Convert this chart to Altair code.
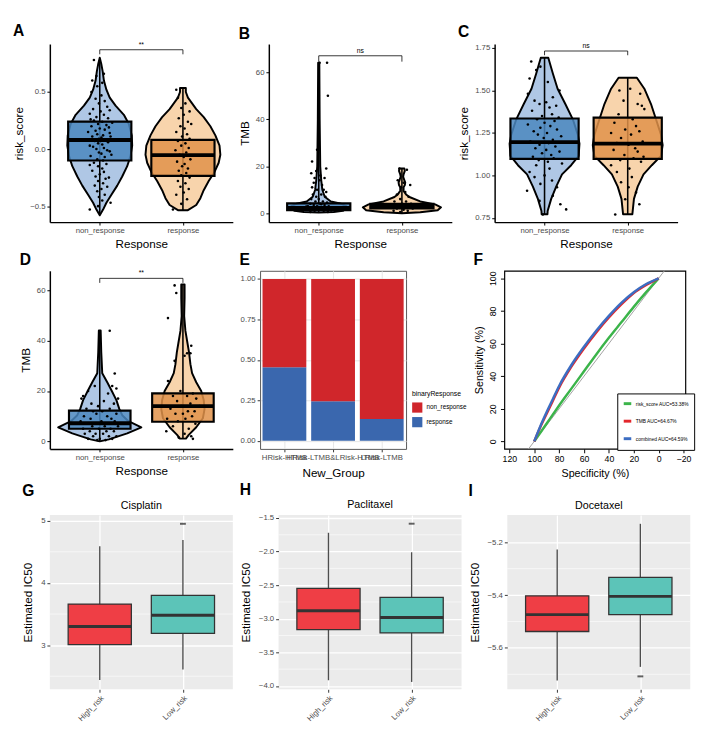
import altair as alt
import pandas as pd

FONT = "Liberation Sans"
GROUPS = ["non_response", "response"]
CENTERS = [1, 2]
VIOLIN_FILL = ["#AFC7E5", "#F8D4AC"]
BOX_FILL = ["#4B87BE", "#E1924A"]

# ---------------- Panel A : risk_score ----------------
A_vy_non = [0.80, 0.74, 0.68, 0.60, 0.52, 0.45, 0.38, 0.30, 0.22, 0.12, 0.03, -0.06, -0.15, -0.24, -0.32, -0.40, -0.47, -0.53, -0.58]
A_vw_non = [0.0, 0.02, 0.035, 0.05, 0.08, 0.12, 0.19, 0.29, 0.35, 0.385, 0.39, 0.37, 0.33, 0.27, 0.21, 0.14, 0.08, 0.04, 0.0]
A_vy_resp = [0.535, 0.50, 0.45, 0.40, 0.35, 0.28, 0.20, 0.12, 0.03, -0.05, -0.12, -0.20, -0.28, -0.36, -0.43, -0.49, -0.535]
A_vw_resp = [0.035, 0.035, 0.06, 0.11, 0.16, 0.25, 0.33, 0.39, 0.44, 0.45, 0.43, 0.38, 0.31, 0.25, 0.21, 0.16, 0.06]
A_box = [[-0.10, 0.08, 0.24], [-0.235, -0.053, 0.08]]
A_whisk = [[-0.57, 0.78], [-0.54, 0.53]]
A_pts_non = [(0.78,-0.07),(0.66,0.05),(0.64,-0.04),(0.60,-0.09),(0.58,0.03),(0.55,-0.03),(0.50,-0.10),(0.47,0.02),(0.44,-0.05),(0.42,0.06),(0.40,-0.01),(0.37,0.09),(0.35,-0.08),(0.33,0.01),(0.31,-0.12),(0.30,0.05),(0.28,-0.04),(0.27,0.10),(0.25,-0.07),(0.24,0.03),(0.22,-0.02),(0.21,0.08),(0.20,-0.10),(0.18,0.00),(0.17,0.06),(0.16,-0.05),(0.14,0.12),(0.13,-0.03),(0.12,0.04),(0.11,-0.09),(0.10,0.02),(0.09,-0.01),(0.08,0.07),(0.07,-0.06),(0.06,0.10),(0.05,-0.02),(0.04,0.03),(0.02,-0.08),(0.01,0.05),(0.00,-0.04),(-0.01,0.09),(-0.03,-0.01),(-0.04,0.02),(-0.06,-0.11),(-0.07,0.06),(-0.09,-0.03),(-0.10,0.04),(-0.12,-0.07),(-0.13,0.08),(-0.15,-0.02),(-0.17,0.03),(-0.19,-0.09),(-0.20,0.05),(-0.22,0.00),(-0.24,-0.05),(-0.26,0.07),(-0.28,-0.02),(-0.30,0.04),(-0.32,-0.06),(-0.35,0.02),(-0.37,-0.03),(-0.40,0.06),(-0.42,-0.01),(-0.45,0.03),(-0.47,0.13),(-0.50,-0.02),(-0.53,-0.12),(0.23,0.15),(0.15,-0.14),(-0.05,0.14),(0.19,0.11),(0.26,-0.11),(0.11,0.13),(0.03,-0.12),(-0.02,0.12),(-0.14,-0.12),(-0.25,0.11),(-0.33,0.09),(0.34,0.12),(0.07,0.01)]
A_pts_resp = [(0.52,-0.08),(0.45,-0.06),(0.40,0.03),(0.36,-0.02),(0.33,0.08),(0.30,0.01),(0.27,-0.05),(0.24,0.06),(0.22,0.10),(0.20,-0.03),(0.18,0.02),(0.15,-0.08),(0.13,0.05),(0.11,-0.01),(0.09,0.08),(0.07,-0.06),(0.05,0.03),(0.03,-0.02),(0.01,0.07),(-0.01,-0.09),(-0.03,0.04),(-0.05,-0.04),(-0.07,0.01),(-0.09,0.09),(-0.11,-0.07),(-0.13,0.02),(-0.15,-0.01),(-0.17,0.06),(-0.19,-0.05),(-0.21,0.04),(-0.23,-0.02),(-0.25,0.08),(-0.28,-0.06),(-0.30,0.03),(-0.33,-0.03),(-0.35,0.07),(-0.38,0.01),(-0.40,-0.08),(-0.44,0.05),(-0.48,-0.02),(-0.53,-0.12)]
A_ydomain = [-0.64, 0.92]
A_yticks = [-0.5, 0.0, 0.5]
A_bracket = [0.87, 0.83]
A_sig = "**"

# ---------------- Panel B : TMB ----------------
B_vy_non = [64, 40, 20, 14, 10, 7, 5, 4, 3, 2, 1, 0.5, 0.3]
B_vw_non = [0.007, 0.011, 0.018, 0.03, 0.043, 0.072, 0.145, 0.27, 0.33, 0.33, 0.29, 0.18, 0.0]
B_vy_resp = [19, 18, 16.5, 15.5, 14, 13, 12, 11, 9.5, 8, 6.9, 5, 3.75, 2.5, 1.25, 0.4, 0]
B_vw_resp = [0.03, 0.035, 0.02, 0.015, 0.03, 0.04, 0.035, 0.02, 0.02, 0.05, 0.09, 0.22, 0.4, 0.47, 0.43, 0.22, 0.0]
B_box = [[1.3, 2.2, 4.2], [2.0, 3.0, 4.0]]
B_whisk = [[0.3, 64], [0, 19]]
B_pts_non = [(64,0.01),(64,0.1),(50,0.0),(50,0.11),(27,-0.02),(22,-0.08),(19,0.09),(18,-0.03),(17,-0.09),(16,0.02),(15,0.07),(15,-0.05),(14,0.01),(13,-0.06),(12,0.04),(11,-0.08),(10,0.06),(10,-0.02),(9,0.09),(8,-0.07),(8,0.03),(7,-0.03),(7,0.08),(6,0.0),(6,-0.09),(5,0.05),(5,-0.04),(4.5,0.1),(4,-0.1),(4,0.02),(3.5,-0.06),(3.5,0.07),(3,-0.02),(3,0.12),(3,-0.13),(2.5,0.04),(2.5,-0.08),(2,0.09),(2,-0.03),(2,0.14),(1.5,-0.11),(1.5,0.01),(1,0.06),(1,-0.05),(0.5,0.11),(0.5,-0.1),(2.2,0.0),(3.8,0.03),(1.2,0.15),(2.8,-0.15)]
B_pts_resp = [(19,-0.03),(18.5,0.06),(14,-0.05),(13,0.02),(12,0.1),(11,-0.01),(9,0.04),(8,-0.06),(7,0.08),(6,-0.02),(5,0.05),(5,-0.09),(4,0.0),(4,0.11),(3.5,-0.07),(3,0.03),(3,-0.12),(2.5,0.08),(2.5,-0.03),(2,0.13),(2,-0.06),(1.5,0.02),(1,-0.1),(1,0.07),(0.5,-0.02)]
B_ydomain = [-3.8, 72]
B_yticks = [0, 20, 40, 60]
B_bracket = [67, 64.5]
B_sig = "ns"

# ---------------- Panel C : risk_score ----------------
C_vy_non = [1.692, 1.60, 1.51, 1.42, 1.33, 1.24, 1.187, 1.115, 1.06, 1.006, 0.934, 0.862, 0.79, 0.772]
C_vw_non = [0.045, 0.10, 0.157, 0.25, 0.34, 0.40, 0.42, 0.41, 0.32, 0.21, 0.14, 0.08, 0.037, 0.035]
C_vy_resp = [1.575, 1.51, 1.42, 1.33, 1.24, 1.178, 1.115, 1.06, 1.006, 0.934, 0.862, 0.772]
C_vw_resp = [0.11, 0.2, 0.28, 0.34, 0.40, 0.42, 0.40, 0.29, 0.19, 0.12, 0.075, 0.056]
C_box = [[1.097, 1.196, 1.335], [1.097, 1.187, 1.34]]
C_whisk = [[0.772, 1.692], [0.772, 1.575]]
C_pts_non = [(1.67,-0.16),(1.64,-0.05),(1.62,-0.1),(1.57,-0.18),(1.55,0.04),(1.50,0.18),(1.48,-0.2),(1.46,0.1),(1.44,-0.12),(1.43,0.02),(1.42,-0.06),(1.41,0.14),(1.40,0.06),(1.38,-0.15),(1.36,0.09),(1.35,-0.03),(1.34,0.17),(1.33,-0.09),(1.32,0.12),(1.31,0.0),(1.30,-0.2),(1.29,0.07),(1.28,-0.05),(1.27,0.15),(1.26,-0.13),(1.25,0.03),(1.24,-0.08),(1.23,0.2),(1.22,-0.01),(1.21,0.1),(1.20,-0.17),(1.19,0.05),(1.18,-0.06),(1.17,0.13),(1.16,-0.11),(1.15,0.02),(1.14,0.18),(1.13,-0.03),(1.12,0.08),(1.11,-0.14),(1.10,0.11),(1.09,-0.07),(1.08,0.04),(1.07,0.21),(1.06,-0.1),(1.04,0.06),(1.02,-0.18),(1.00,0.0),(0.99,-0.12),(0.97,0.09),(0.95,-0.05),(0.93,0.15),(0.91,-0.21),(0.88,0.1),(0.85,-0.06),(0.83,0.19),(0.80,0.26),(0.77,-0.02)]
C_pts_resp = [(1.51,0.03),(1.50,-0.1),(1.48,0.15),(1.44,-0.05),(1.42,0.12),(1.41,0.17),(1.39,0.2),(1.36,-0.11),(1.33,0.06),(1.31,-0.16),(1.29,0.1),(1.27,-0.03),(1.26,0.14),(1.25,-0.2),(1.24,0.04),(1.22,-0.08),(1.20,0.18),(1.19,-0.13),(1.18,0.01),(1.16,0.09),(1.15,-0.17),(1.14,0.12),(1.12,-0.04),(1.11,0.19),(1.10,0.07),(1.09,-0.09),(1.08,0.16),(1.06,-0.2),(1.04,0.02),(1.02,-0.13),(0.99,0.05),(0.96,-0.08),(0.93,0.01),(0.90,0.1),(0.86,-0.03),(0.83,0.14),(0.77,-0.15)]
C_ydomain = [0.725, 1.773]
C_yticks = [0.75, 1.00, 1.25, 1.50, 1.75]
C_bracket = [1.732, 1.707]
C_sig = "ns"

# ---------------- Panel D : TMB ----------------
D_vy_non = [44.1, 35.5, 27.1, 23.5, 20, 16.4, 12.8, 10.4, 8.0, 5.6, 3.2, 0.8, 0]
D_vw_non = [0.011, 0.018, 0.03, 0.09, 0.145, 0.2, 0.236, 0.27, 0.345, 0.5, 0.33, 0.11, 0.0]
D_vy_resp = [62.4, 57, 49.8, 43.9, 39, 35.5, 30.7, 27.1, 23.5, 20, 16.4, 12.8, 9.2, 5.6, 2.6, 1.1]
D_vw_resp = [0.02, 0.02, 0.015, 0.03, 0.055, 0.073, 0.09, 0.11, 0.16, 0.22, 0.25, 0.26, 0.24, 0.16, 0.07, 0.036]
D_box = [[5.0, 7.2, 12.2], [7.8, 14.0, 19.1]]
D_whisk = [[0, 44], [1.1, 62.4]]
D_pts_non = [(44,0.12),(27,0.18),(22,0.15),(22,-0.06),(21,0.2),(20,-0.14),(19,0.1),(18,-0.2),(17,0.22),(17,-0.22),(16,0.05),(15,-0.1),(15,0.17),(14,-0.02),(13,0.12),(13,-0.16),(12,0.03),(12,-0.08),(11,0.2),(11,-0.04),(10,0.09),(10,-0.19),(9,0.14),(9,-0.11),(8,0.02),(8,-0.23),(8,0.18),(7,-0.05),(7,0.1),(7,-0.15),(6,0.06),(6,-0.09),(6,0.22),(5,-0.01),(5,0.13),(5,-0.2),(4,0.08),(4,-0.12),(4,0.17),(3,-0.05),(3,0.04),(3,-0.18),(2,0.11),(2,-0.08),(2,0.2),(1,0.0),(1,-0.14),(1,0.15),(0.5,-0.03),(0.5,0.07)]
D_pts_resp = [(62,-0.1),(59,-0.08),(49,-0.18),(38,0.1),(35,0.05),(35,0.09),(34,0.02),(32,-0.1),(24,-0.18),(20,-0.03),(19,0.12),(18,-0.12),(18,0.05),(17,0.16),(16,-0.07),(15,0.09),(14,-0.02),(14,0.2),(13,-0.15),(12,0.06),(12,0.14),(11,-0.09),(11,0.0),(10,0.11),(9,-0.19),(9,0.03),(8,-0.06),(7,0.15),(6,-0.12),(5,0.07),(4,-0.2),(3,0.02),(2,0.1),(1,0.12),(1.5,-0.05)]
D_ydomain = [-3, 67.8]
D_yticks = [0, 20, 40, 60]
D_bracket = [64.8, 63]
D_sig = "**"

# ---------------- Panel E : stacked proportions ----------------
E_groups = ["HRisk-HTMB", "HRisk-LTMB&LRisk-HTMB", "LRisk-LTMB"]
E_response = [0.455, 0.245, 0.135]
E_status = ["non_response", "response"]
E_colors = ["#D0262B", "#3A67AE"]

# ---------------- Panel F : ROC ----------------
F_spec = [100, 95, 90, 85, 80, 70, 60, 50, 40, 30, 20, 10, 0]
F_sens_risk = [0, 5.5, 11, 16.5, 22, 32.5, 43, 53.5, 63.5, 73, 82.5, 91.5, 100]
F_sens_tmb = [0, 9, 17, 25, 33, 46, 57, 67, 76, 84, 91, 96, 100]
F_sens_comb = [0, 9.5, 18, 26, 34, 47, 58, 68, 77, 85, 91.5, 96.5, 100]
F_labels = ["risk_score AUC=53.38%", "TMB AUC=64.67%", "combined AUC=64.59%"]
F_colors = ["#3BB44A", "#E3262B", "#3C6DC2"]
F_diag_spec = [130, -30]

# ---------------- Panels G/H/I : drug IC50 box plots ----------------
DRUG_GROUPS = ["High_risk", "Low_risk"]
DRUG_FILL = ["#EF3E45", "#5CC4B8"]
G_stats = [[2.44, 3.01, 3.30, 3.66, 4.59], [2.61, 3.19, 3.48, 3.80, 4.69]]
G_out = [[], [4.95]]
G_ydomain = [2.29, 5.09]
G_yticks = [3, 4, 5]
G_minor = [2.5, 3.5, 4.5]
H_stats = [[-3.915, -3.16, -2.88, -2.547, -1.72], [-3.94, -3.21, -2.98, -2.68, -2.01]]
H_out = [[], [-1.585]]
H_ydomain = [-4.05, -1.457]
H_yticks = [-4.0, -3.5, -3.0, -2.5, -2.0, -1.5]
H_minor = [-3.75, -3.25, -2.75, -2.25, -1.75]
I_stats = [[-5.724, -5.538, -5.474, -5.403, -5.227], [-5.672, -5.474, -5.405, -5.333, -5.13]]
I_out = [[], [-5.708]]
I_ydomain = [-5.757, -5.097]
I_yticks = [-5.6, -5.4, -5.2]
I_minor = [-5.7, -5.5, -5.3]

W = 188
H = 183


def label_expr(names):
    return "datum.value == 1 ? '%s' : '%s'" % (names[0], names[1])


def violin_panel(ytitle, ydomain, yticks, yfmt, vys, vws, boxes, whisks, pts, bracket, sig, box_hw):
    xs = alt.Scale(domain=[0.4, 2.6], nice=False, zero=False)
    ys = alt.Scale(domain=ydomain, nice=False, zero=False)
    xax = alt.Axis(values=CENTERS, labelExpr=label_expr(GROUPS), title="Response", grid=False,
                   domainColor="black", domainWidth=1.5, tickColor="black", tickSize=3,
                   labelColor="#4D4D4D", labelFontSize=8, titleFontSize=12, titleFontWeight="normal",
                   titleColor="black", labelPadding=2, titlePadding=4)
    yax = alt.Axis(values=yticks, format=yfmt, title=ytitle, grid=False,
                   domainColor="black", domainWidth=1.5, tickColor="black", tickSize=3,
                   labelColor="#4D4D4D", labelFontSize=8, titleFontSize=12, titleFontWeight="normal",
                   titleColor="black", labelPadding=2, titlePadding=4)
    layers = []
    for i in range(2):
        c = CENTERS[i]
        vdf = pd.DataFrame({"y": vys[i], "lo": [c - w for w in vws[i]], "hi": [c + w for w in vws[i]]})
        layers.append(alt.Chart(vdf).mark_area(orient="horizontal", fill=VIOLIN_FILL[i], stroke="black",
                                               strokeWidth=2, strokeJoin="round").encode(
            y=alt.Y("y:Q", scale=ys, axis=yax), x=alt.X("lo:Q", scale=xs, axis=xax), x2="hi:Q"))
    wdf = pd.DataFrame({"c": CENTERS, "lo": [w[0] for w in whisks], "hi": [w[1] for w in whisks]})
    layers.append(alt.Chart(wdf).mark_rule(color="black", strokeWidth=1.6).encode(
        x=alt.X("c:Q", scale=xs, axis=xax), y=alt.Y("lo:Q", scale=ys, axis=yax), y2="hi:Q"))
    bdf = pd.DataFrame({"lo": [c - box_hw for c in CENTERS], "hi": [c + box_hw for c in CENTERS],
                        "q1": [b[0] for b in boxes], "med": [b[1] for b in boxes], "q3": [b[2] for b in boxes],
                        "fill": BOX_FILL})
    layers.append(alt.Chart(bdf).mark_rect(stroke="black", strokeWidth=2.2, fillOpacity=0.85).encode(
        x=alt.X("lo:Q", scale=xs, axis=xax), x2="hi:Q", y=alt.Y("q1:Q", scale=ys, axis=yax), y2="q3:Q",
        fill=alt.Fill("fill:N", scale=None)))
    layers.append(alt.Chart(bdf).mark_rule(color="black", strokeWidth=4).encode(
        x=alt.X("lo:Q", scale=xs, axis=xax), x2="hi:Q", y=alt.Y("med:Q", scale=ys, axis=yax)))
    prow = []
    for i in range(2):
        for (yv, dx) in pts[i]:
            prow.append({"x": CENTERS[i] + dx, "y": yv})
    layers.append(alt.Chart(pd.DataFrame(prow)).mark_circle(size=7, color="black", opacity=1).encode(
        x=alt.X("x:Q", scale=xs, axis=xax), y=alt.Y("y:Q", scale=ys, axis=yax)))
    brdf = pd.DataFrame({"x": [CENTERS[0], CENTERS[0], CENTERS[1]],
                         "x2": [CENTERS[1], CENTERS[0], CENTERS[1]],
                         "y": [bracket[0]] * 3,
                         "y2": [bracket[0], bracket[1], bracket[1]]})
    layers.append(alt.Chart(brdf).mark_rule(color="black", strokeWidth=0.8).encode(
        x=alt.X("x:Q", scale=xs, axis=xax), x2="x2:Q", y=alt.Y("y:Q", scale=ys, axis=yax), y2="y2:Q"))
    tdf = pd.DataFrame({"x": [(CENTERS[0] + CENTERS[1]) / 2], "y": [bracket[0]], "t": [sig]})
    layers.append(alt.Chart(tdf).mark_text(fontSize=7, dy=-5, fill="black").encode(
        x=alt.X("x:Q", scale=xs, axis=xax), y=alt.Y("y:Q", scale=ys, axis=yax), text="t:N"))
    return alt.layer(*layers).properties(width=W, height=H)


def panel_E():
    rows = []
    for g, r in zip(E_groups, E_response):
        rows.append({"group": g, "status": E_status[1], "value": r, "ord": 0})
        rows.append({"group": g, "status": E_status[0], "value": 1 - r, "ord": 1})
    df = pd.DataFrame(rows)
    w = 150
    return alt.Chart(df).mark_bar().encode(
        x=alt.X("group:N", sort=E_groups, scale=alt.Scale(paddingInner=0.1, paddingOuter=0.05),
                axis=alt.Axis(title="New_Group", labelAngle=0, grid=True, gridColor="#E5E5E5", bandPosition=0.5,
                              domain=False, tickColor="#333333", tickSize=3, labelColor="#4D4D4D",
                              labelFontSize=8, titleFontSize=12, titleFontWeight="normal", titleColor="black",
                              labelPadding=2, titlePadding=6)),
        y=alt.Y("value:Q", stack="zero", scale=alt.Scale(domain=[-0.05, 1.05], nice=False, zero=False),
                axis=alt.Axis(values=[0, 0.25, 0.5, 0.75, 1.0], format=".2f", title=None, grid=True,
                              gridColor="#E5E5E5", domain=False, tickColor="#333333", tickSize=3,
                              labelColor="#4D4D4D", labelFontSize=8, labelPadding=2)),
        color=alt.Color("status:N", scale=alt.Scale(domain=E_status, range=E_colors),
                        legend=alt.Legend(title="binaryResponse", orient="none", legendX=w + 6, legendY=H - 60,
                                          titleFontSize=7, titleFontWeight="normal", labelFontSize=6.5,
                                          symbolType="square", symbolSize=110, symbolStrokeWidth=0,
                                          rowPadding=4, titlePadding=5)),
        order=alt.Order("ord:Q"),
    ).properties(width=w, height=H, view=alt.ViewBackground(stroke="#555555", strokeWidth=1))


def panel_F():
    fw = W - 2
    xs = alt.Scale(domain=[124, -21.5], nice=False, zero=False)
    ys = alt.Scale(domain=[-4.6, 104.6], nice=False, zero=False)
    xax = alt.Axis(values=[120, 100, 80, 60, 40, 20, 0, -20], format="d", title="Specificity (%)", grid=False,
                   domain=False, tickColor="black", tickSize=4, labelColor="black", labelFontSize=9,
                   labelOverlap=False, labelBound=False,
                   titleFontSize=11, titleFontWeight="normal", labelPadding=2, titlePadding=4)
    yax = alt.Axis(values=[0, 20, 40, 60, 80, 100], format="d", title="Sensitivity (%)", grid=False,
                   domain=False, tickColor="black", tickSize=4, labelColor="black", labelFontSize=9,
                   labelAngle=270, labelAlign="center", labelBaseline="bottom",
                   titleFontSize=11, titleFontWeight="normal", labelPadding=3, titlePadding=4)
    ddf = pd.DataFrame({"spec": F_diag_spec, "sens": [100 - s for s in F_diag_spec]})
    layers = [alt.Chart(ddf).mark_line(color="#A0A0A0", strokeWidth=1, clip=True).encode(
        x=alt.X("spec:Q", scale=xs, axis=xax), y=alt.Y("sens:Q", scale=ys, axis=yax))]
    cs = alt.Scale(domain=F_labels, range=F_colors)
    leg = alt.Legend(title=None, orient="none", legendX=fw - 70, legendY=H - 57, padding=5, rowPadding=5,
                     labelFontSize=5, symbolType="stroke", symbolStrokeWidth=3, symbolSize=60,
                     labelOffset=3, strokeColor="black", fillColor="white", labelLimit=200)
    for lab, sens in zip(F_labels, [F_sens_risk, F_sens_tmb, F_sens_comb]):
        df = pd.DataFrame({"spec": F_spec, "sens": sens, "curve": lab})
        layers.append(alt.Chart(df).mark_line(strokeWidth=2.5, interpolate="monotone").encode(
            x=alt.X("spec:Q", scale=xs, axis=xax), y=alt.Y("sens:Q", scale=ys, axis=yax),
            color=alt.Color("curve:N", scale=cs, legend=leg)))
    return alt.layer(*layers).properties(width=fw, height=H,
                                         view=alt.ViewBackground(stroke="black", strokeWidth=1.2))


def drug_panel(title, ydomain, yticks, yfmt, minor, stats, outs):
    xs = alt.Scale(domain=[0.4, 2.6], nice=False, zero=False)
    ys = alt.Scale(domain=ydomain, nice=False, zero=False)
    xax = alt.Axis(values=CENTERS, labelExpr=label_expr(DRUG_GROUPS), title=None, grid=True,
                   gridColor="white", gridWidth=1.3, domain=False, tickColor="#333333", tickSize=3,
                   labelColor="#4D4D4D", labelFontSize=8, labelAngle=315, labelAlign="right",
                   labelBaseline="top", labelPadding=2)
    yax = alt.Axis(values=yticks, format=yfmt, title="Estimated IC50", grid=True, gridColor="white",
                   gridWidth=1.3, domain=False, tickColor="#333333", tickSize=3, labelColor="#4D4D4D",
                   labelFontSize=8, titleFontSize=12, titleFontWeight="normal", titleColor="black",
                   labelPadding=2, titlePadding=6)
    mdf = pd.DataFrame({"y": minor})
    layers = [alt.Chart(mdf).mark_rule(color="white", strokeWidth=0.6).encode(
        y=alt.Y("y:Q", scale=ys, axis=yax))]
    sdf = pd.DataFrame({"c": CENTERS, "lo": [s[0] for s in stats], "q1": [s[1] for s in stats],
                        "med": [s[2] for s in stats], "q3": [s[3] for s in stats], "hi": [s[4] for s in stats],
                        "bl": [c - 0.38 for c in CENTERS], "br": [c + 0.38 for c in CENTERS],
                        "fill": DRUG_FILL})
    layers.append(alt.Chart(sdf).mark_rule(color="#4D4D4D", strokeWidth=1.4).encode(
        x=alt.X("c:Q", scale=xs, axis=xax), y=alt.Y("lo:Q", scale=ys, axis=yax), y2="hi:Q"))
    layers.append(alt.Chart(sdf).mark_rect(stroke="#333333", strokeWidth=1.3).encode(
        x=alt.X("bl:Q", scale=xs, axis=xax), x2="br:Q", y=alt.Y("q1:Q", scale=ys, axis=yax), y2="q3:Q",
        fill=alt.Fill("fill:N", scale=None)))
    layers.append(alt.Chart(sdf).mark_rule(color="#333333", strokeWidth=3).encode(
        x=alt.X("bl:Q", scale=xs, axis=xax), x2="br:Q", y=alt.Y("med:Q", scale=ys, axis=yax)))
    orow = []
    for i in range(2):
        for v in outs[i]:
            orow.append({"c": CENTERS[i], "y": v})
    layers.append(alt.Chart(pd.DataFrame(orow)).mark_tick(orient="horizontal", size=6, thickness=2,
                                                          color="#222222").encode(
        x=alt.X("c:Q", scale=xs, axis=xax), y=alt.Y("y:Q", scale=ys, axis=yax)))
    return alt.layer(*layers).properties(
        width=W, height=H - 4,
        title=alt.Title(title, fontSize=11, fontWeight="normal", anchor="middle", offset=4, font=FONT),
        view=alt.ViewBackground(fill="#EBEBEB", strokeWidth=0))


def lettered(ch, letter):
    return alt.vconcat(ch, title=alt.Title(letter, anchor="start", fontSize=16, fontWeight="bold",
                                           font=FONT, offset=2))


pA = violin_panel("risk_score", A_ydomain, A_yticks, ".1f", [A_vy_non, A_vy_resp], [A_vw_non, A_vw_resp],
                  A_box, A_whisk, [A_pts_non, A_pts_resp], A_bracket, A_sig, 0.38)
pB = violin_panel("TMB", B_ydomain, B_yticks, "d", [B_vy_non, B_vy_resp], [B_vw_non, B_vw_resp],
                  B_box, B_whisk, [B_pts_non, B_pts_resp], B_bracket, B_sig, 0.38)
pC = violin_panel("risk_score", C_ydomain, C_yticks, ".2f", [C_vy_non, C_vy_resp], [C_vw_non, C_vw_resp],
                  C_box, C_whisk, [C_pts_non, C_pts_resp], C_bracket, C_sig, 0.41)
pD = violin_panel("TMB", D_ydomain, D_yticks, "d", [D_vy_non, D_vy_resp], [D_vw_non, D_vw_resp],
                  D_box, D_whisk, [D_pts_non, D_pts_resp], D_bracket, D_sig, 0.37)
pE = panel_E()
pF = panel_F()
pG = drug_panel("Cisplatin", G_ydomain, G_yticks, "d", G_minor, G_stats, G_out)
pH = drug_panel("Paclitaxel", H_ydomain, H_yticks, ".1f", H_minor, H_stats, H_out)
pI = drug_panel("Docetaxel", I_ydomain, I_yticks, ".1f", I_minor, I_stats, I_out)

row1 = alt.hconcat(lettered(pA, "A"), lettered(pB, "B"), lettered(pC, "C"), spacing=6)
row2 = alt.hconcat(lettered(pD, "D"), lettered(pE, "E"), lettered(pF, "F"), spacing=6).resolve_scale(
    color="independent").resolve_legend(color="independent")
row3 = alt.hconcat(lettered(pG, "G"), lettered(pH, "H"), lettered(pI, "I"), spacing=6)

chart = alt.vconcat(row1, row2, row3, spacing=2).resolve_scale(color="independent").resolve_legend(
    color="independent").configure(font=FONT).configure_view(strokeWidth=0)

chart.save("out.html", embed_options={"renderer": "svg", "actions": False})
